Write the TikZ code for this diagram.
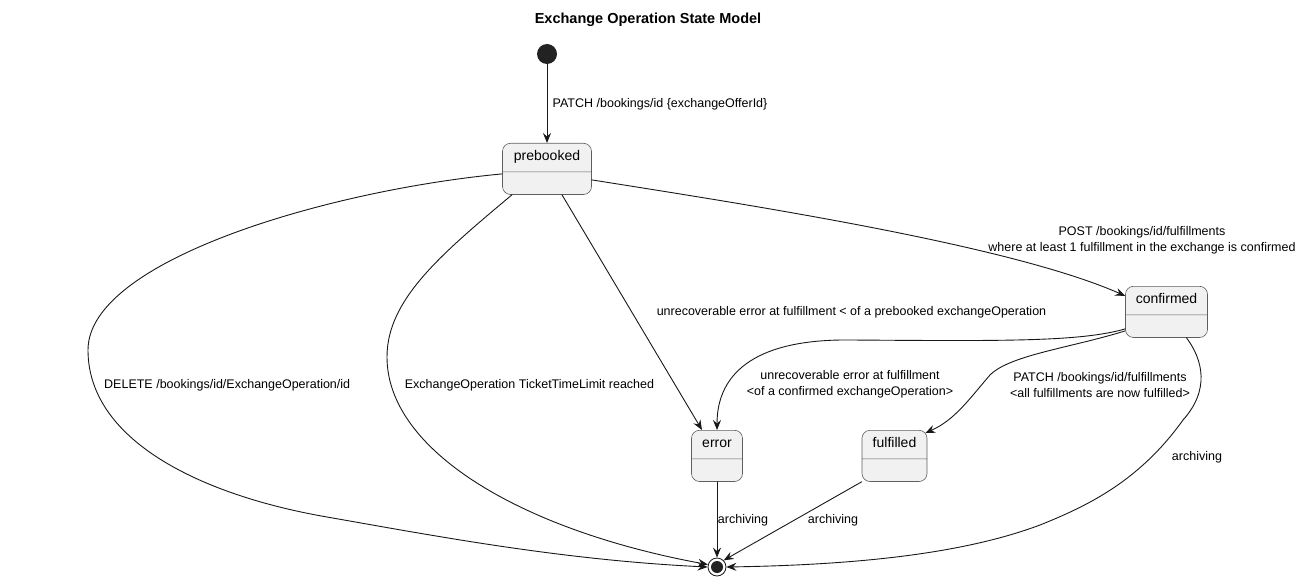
\documentclass[tikz,border=0pt]{standalone}
\usepackage{fontspec}
\setmainfont{Liberation Sans}
\usetikzlibrary{arrows.meta,shapes.multipart}
\definecolor{statebg}{HTML}{F1F1F1}
\definecolor{statebd}{HTML}{5F5F5F}
\definecolor{linec}{HTML}{181818}
\definecolor{dotc}{HTML}{222222}
\begin{document}
\begin{tikzpicture}[x=1pt,y=-1pt,line join=round,line cap=round,
	>={Stealth[length=10pt,width=8pt,inset=3.5pt]},
	statebox/.style={rectangle split,rectangle split parts=2,draw=statebd,fill=statebg,line width=0.6pt,
		rounded corners=8pt,font=\fontsize{14}{16}\selectfont,inner xsep=0pt,inner ysep=7pt,
		text height=10pt,text depth=4pt,rectangle split empty part height=8pt,anchor=north},
	startdot/.style={circle,fill=dotc,minimum size=20pt,inner sep=0pt},
	enddot/.style={circle,draw=linec,fill=white,line width=0.8pt,minimum size=18pt,inner sep=0pt,
		path picture={\fill[dotc] (path picture bounding box.center) circle (6pt);}},
	trans/.style={->,draw=linec,line width=0.9pt},
	lbl/.style={font=\fontsize{12.5}{16}\selectfont,inner sep=0pt,align=center}]
	\useasboundingbox (0,0) rectangle (1310,583);
	%Tiêu đề
	\node[font=\bfseries\fontsize{14.5}{17}\selectfont] (title) at (648,20) {Exchange Operation State Model};
	%Vẽ các trạng thái
	\node[startdot] (start) at (547,54) {};
	\node[statebox,minimum width=89pt] (prebooked) at (547,143) {prebooked\nodepart{two}};
	\node[statebox,minimum width=82pt] (confirmed) at (1166.5,286) {confirmed\nodepart{two}};
	\node[statebox,minimum width=51pt] (error) at (717,430) {error\nodepart{two}};
	\node[statebox,minimum width=65pt] (fulfilled) at (894.5,430) {fulfilled\nodepart{two}};
	\node[enddot] (final) at (717,567) {};
	%Vẽ các mũi tên
	\draw[trans] (start) -- (prebooked);
	\draw[trans] ([yshift=-5pt]prebooked.west) .. controls (330,190) and (88,260) .. (88,350)
		.. controls (88,440) and (200,495) .. (327,517) .. controls (430,535) and (560,560) .. (final.west);
	\draw[trans] ([xshift=-35pt]prebooked.south) .. controls (440,255) and (387,300) .. (387,357)
		.. controls (387,450) and (520,530) .. (final.165);
	\draw[trans] ([xshift=15pt]prebooked.south) -- ([xshift=-15pt]error.north);
	\draw[trans] ([yshift=-11pt]prebooked.east) .. controls (750,205) and (1010,245) .. ([yshift=16pt]confirmed.west);
	\draw[trans] ([yshift=-17pt]confirmed.west) .. controls (1080,342) and (1000,341) .. (850,340)
		.. controls (760,339) and (717,370) .. (error.north);
	\draw[trans] ([yshift=-19pt]confirmed.west) .. controls (1070,348) and (1010,355) .. (990,375)
		.. controls (970,398) and (955,420) .. ([shift={(-2pt,-3pt)}]fulfilled.north east);
	\draw[trans] ([xshift=20pt]confirmed.south) .. controls (1203,360) and (1210,390) .. (1183,420)
		.. controls (1140,480) and (1090,505) .. (1040,525) .. controls (960,555) and (850,565) .. (final.east);
	\draw[trans] (error) -- (final);
	\draw[trans] (fulfilled.south west) -- (final.north east);
	%Ghi chú trên các mũi tên
	\node[lbl] (lStart) at (660,104) {PATCH /bookings/id \{exchangeOfferId\}};
	\node[lbl] (lPost) at (1142,240) {POST /bookings/id/fulfillments\\where at least 1 fulfillment in the exchange is confirmed};
	\node[lbl] (lErrPre) at (851.5,312) {unrecoverable error at fulfillment < of a prebooked exchangeOperation};
	\node[lbl,anchor=west] (lDelete) at (104,385) {DELETE /bookings/id/ExchangeOperation/id};
	\node[lbl] (lLimit) at (529.5,385) {ExchangeOperation TicketTimeLimit reached};
	\node[lbl] (lErrConf) at (850,384) {unrecoverable error at fulfillment\\<of a confirmed exchangeOperation>};
	\node[lbl] (lFulfil) at (1100,385) {PATCH /bookings/id/fulfillments\\<all fulfillments are now fulfilled>};
	\node[lbl] (lArchConf) at (1197,457) {archiving};
	\node[lbl] (lArchErr) at (743,520) {archiving};
	\node[lbl] (lArchFul) at (833,520) {archiving};
\end{tikzpicture}
\end{document}
